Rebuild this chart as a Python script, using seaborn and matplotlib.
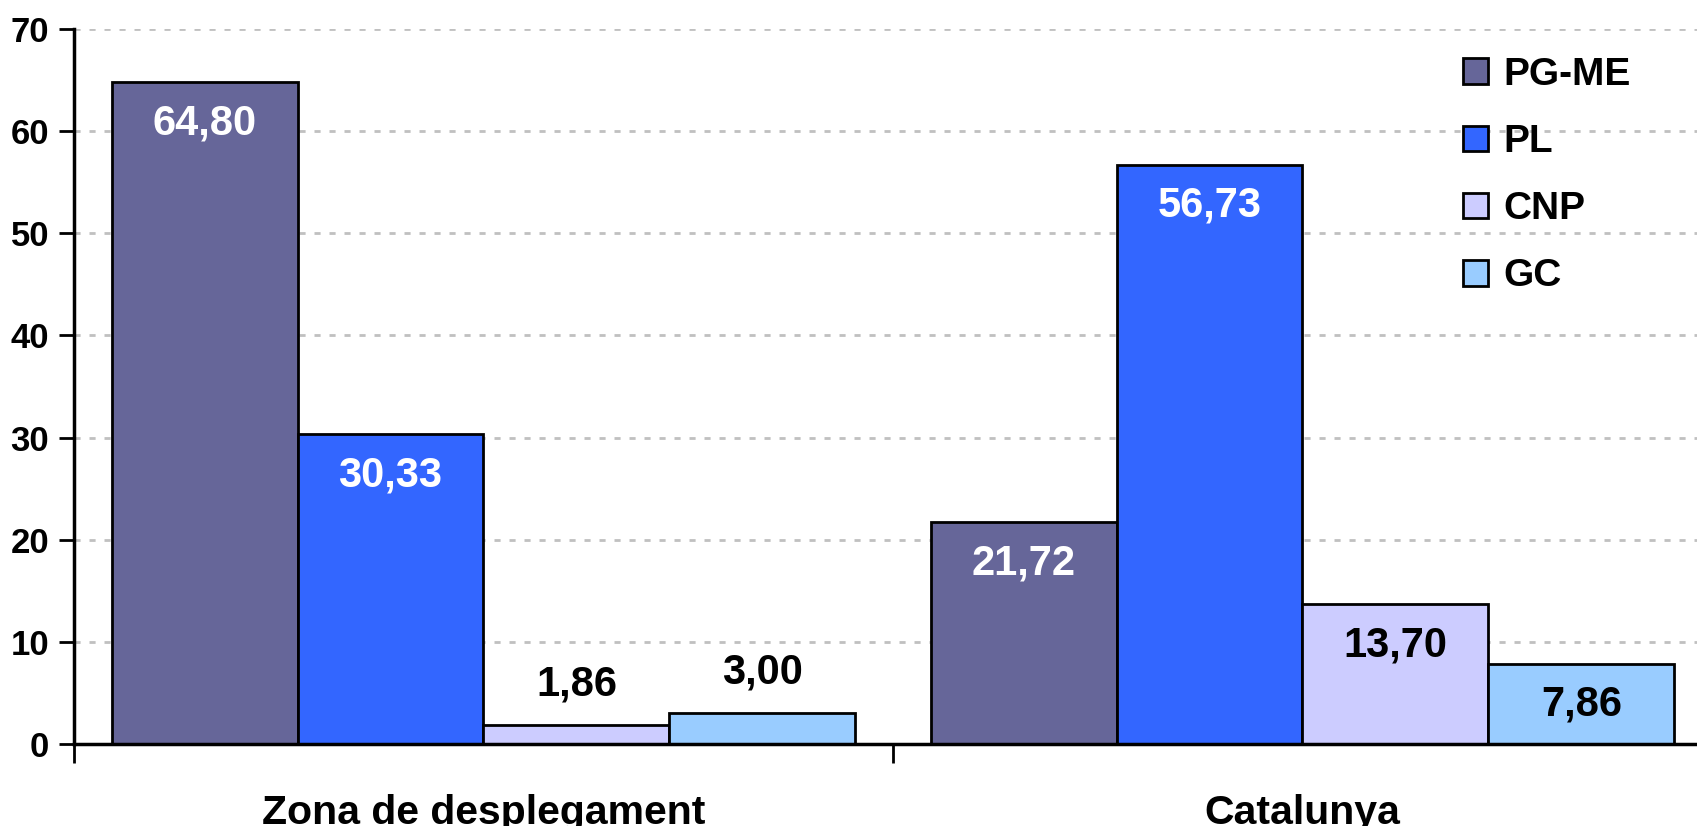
import matplotlib
matplotlib.use("Agg")
import matplotlib.pyplot as plt
import pandas as pd
import seaborn as sns

# data
zones = ["Zona de desplegament", "Catalunya"]
cossos = ["PG-ME", "PL", "CNP", "GC"]
zona_values = [64.80, 30.33, 1.86, 3.00]
catalunya_values = [21.72, 56.73, 13.70, 7.86]
colors = ["#666699", "#3366FF", "#CCCCFF", "#99CCFF"]
label_colors = ["white", "white", "black", "black"]
yticks = [0, 10, 20, 30, 40, 50, 60, 70]

rows = []
for cos, v1, v2 in zip(cossos, zona_values, catalunya_values):
    rows.append({"zona": zones[0], "cos": cos, "valor": v1})
    rows.append({"zona": zones[1], "cos": cos, "valor": v2})
df = pd.DataFrame(rows)

sns.set_style("white")
plt.rcParams["font.family"] = ["Liberation Sans", "DejaVu Sans"]
plt.rcParams["font.weight"] = "bold"
plt.rcParams["text.color"] = "black"
plt.rcParams["xtick.color"] = "black"
plt.rcParams["ytick.color"] = "black"

fig = plt.figure(figsize=(16.97, 8.26), dpi=100)
# plot area runs past the right edge of the picture, like the original
ax = fig.add_axes([0.0436, 0.0993, 0.9652, 0.8656])

ax.yaxis.grid(True, linestyle=(0, (2.2, 3.2)), color="#C0C0C0", linewidth=2)
ax.set_axisbelow(True)

sns.barplot(
    data=df, x="zona", y="valor", hue="cos", order=zones, hue_order=cossos,
    palette=colors, width=0.908, edgecolor="black", linewidth=2,
    saturation=1, ax=ax, legend=True,
)

ax.set_xlim(-0.5, 1.5)
ax.set_ylim(0, 70)
ax.set_yticks(yticks)
ax.set_yticklabels([str(t) for t in yticks], fontsize=25, fontweight="bold")
ax.tick_params(axis="y", length=11, width=2, pad=7, left=True, color="black")

# category labels on major ticks, group dividers on minor ticks
ax.set_xticks([0, 1])
ax.set_xticklabels(zones, fontsize=29.5, fontweight="bold")
ax.tick_params(axis="x", which="major", length=0, pad=36)
ax.set_xticks([-0.5, 0.5], minor=True)
ax.tick_params(axis="x", which="minor", length=14, width=2, color="black", bottom=True)
ax.set_xlabel("")
ax.set_ylabel("")

for s in ["top", "right"]:
    ax.spines[s].set_visible(False)
for s in ["left", "bottom"]:
    ax.spines[s].set_color("black")
    ax.spines[s].set_linewidth(2.5)

# value labels: inside the bar near the top, above it for the tiny bars
for container, lc in zip(ax.containers, label_colors):
    for bar in container:
        h = bar.get_height()
        inside = h > 5
        ax.annotate(
            f"{h:.2f}".replace(".", ","),
            xy=(bar.get_x() + bar.get_width() / 2, h),
            xytext=(0, -29.5 if inside else 29.5), textcoords="offset points",
            ha="center", va="center", fontsize=30, fontweight="bold",
            color=lc if inside else "black",
        )

leg = ax.legend(
    loc="upper left", bbox_to_anchor=(1463 / 1697, 1 - 57 / 826),
    bbox_transform=fig.transFigure, frameon=False,
    prop={"size": 28, "weight": "bold"},
    handlelength=0.64, handleheight=0.64, handletextpad=0.4,
    labelspacing=0.8, borderpad=0, borderaxespad=0,
)

fig.savefig("out.png", dpi=100)
